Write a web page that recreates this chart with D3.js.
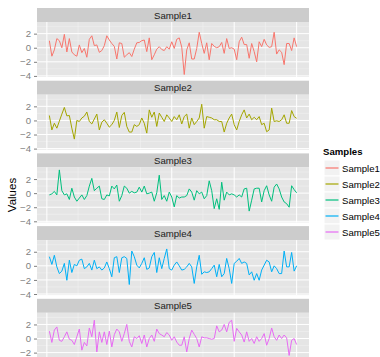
<!DOCTYPE html>
<html>
<head>
<meta charset="utf-8">
<script src="https://cdnjs.cloudflare.com/ajax/libs/d3/7.8.5/d3.min.js"></script>
<style>
body { margin: 0; background: #fff; }
svg { display: block; font-family: "Liberation Sans", Arial, sans-serif; }
</style>
</head>
<body>
<svg id="chart" width="380" height="357"></svg>
<script>
/*global d3 */

var samples = ['Sample1', 'Sample2', 'Sample3', 'Sample4', 'Sample5'];
var colors = ['#F8766D', '#A3A500', '#00BF7D', '#00B0F6', '#E76BF3'];

var sample1 = [1.0, -1.2, -0.3, 1.3, 1.0, 0.0, 1.9, -0.6, 1.3, -0.6,
    -1.0, -1.2, 0.4, -0.7, -0.1, -1.35, 1.2, 1.7, 0.3, 0.4,
    -0.65, -0.4, 0.3, 1.7, 1.1, 0.6, 0.2, -1.6, 0.7, 0.6,
    -1.35, -1.0, -0.7, -1.25, -0.2, 0.7, 0.75, 1.0, 1.1, -0.55,
    1.4, -1.7, -1.0, -0.2, 0.15, -0.25, -0.4, 0.15, -0.2, 0.85,
    -0.1, 1.2, 1.4, 0.1, -3.8, -0.3, 0.7, -1.6, -1.6, -0.1,
    2.2, 0.6, -0.8, 0.7, -1.7, 0.6, 0.2, 0.0, 0.15, 0.75,
    -0.8, 1.3, -0.1, 0.0, -0.2, -1.7, 0.85, 1.5, 0.45, 0.45,
    -1.5, 0.6, -0.55, -2.0, 0.85, 0.15, 1.2, 0.4, 0.05, 0.15,
    2.2, -0.9, -0.3, -0.65, -2.4, 0.6, 0.6, -0.4, 1.4, 0.15];

var sample2 = [0.7, -1.35, -0.4, -1.1, -0.1, 0.9, 1.85, 0.65, 0.7, -1.1,
    -2.65, 0.0, -0.15, 0.35, 0.6, 1.2, -0.15, -0.5, 0.2, 0.9,
    -1.35, -0.25, 0.1, -0.4, -0.95, -0.6, 0.0, 1.2, -1.0, 0.7,
    1.15, -0.85, -1.65, -1.65, -0.6, -0.85, -0.6, 0.35, -0.4, -1.8,
    1.5, 0.45, 1.2, -0.85, 1.05, 0.45, -0.15, 0.8, 0.35, -0.15,
    0.55, 0.1, 0.8, -0.5, 0.55, 0.9, -1.1, 0.35, -0.6, -0.15,
    0.35, 2.3, -1.1, 0.55, 0.45, 0.35, 0.1, 0.1, -0.15, -0.15,
    -1.65, -0.4, 0.35, 0.9, -0.6, -1.35, -0.15, 0.8, 1.5, 0.35,
    0.9, 0.1, 0.45, 0.1, 0.55, -0.6, -0.4, -1.6, -1.35, 1.75,
    -0.15, -0.05, -0.15, 0.1, 0.8, -0.4, -0.4, 1.4, 0.55, 0.3];

var sample3 = [-0.25, -0.1, 0.25, -0.25, 3.3, 0.35, -0.25, -0.1, -0.9, 0.7,
    -0.55, -1.15, -0.7, -0.25, -0.9, -0.35, 1.0, 2.1, 0.35, 0.7,
    1.0, -0.8, -0.9, -0.25, -0.4, 1.0, 0.6, 1.15, -1.15, -0.35,
    1.0, 0.7, 0.0, 0.25, 0.05, 0.15, 0.85, 0.15, 1.0, -0.1,
    0.0, 0.15, -1.15, 0.05, 2.55, -0.9, -0.35, -1.15, 0.15, -0.55,
    -1.95, -0.35, -0.7, -0.55, -0.55, -0.35, 0.6, 0.15, -1.0, 0.35,
    -0.1, 0.15, -0.8, -0.35, 1.75, 0.35, -2.2, -0.8, -2.3, 1.55,
    -1.0, 0.15, -0.25, -0.1, -0.25, -0.55, -0.25, -0.55, 0.6, 0.7,
    -2.55, -1.0, 0.6, 0.7, 0.7, -1.25, 0.35, 1.05, -0.25, -1.15,
    0.85, 1.3, 0.6, -0.55, -1.25, -1.5, -2.0, 1.05, 0.5, 0.05];

var sample4 = [1.3, 0.2, 1.5, -0.15, -1.1, -0.75, 0.35, -2.05, 0.8, -0.95,
    0.2, 0.0, 0.8, 0.95, -0.4, -0.15, 0.35, -0.6, 0.8, -0.4,
    -0.15, -0.6, -0.3, 0.55, -0.4, -1.55, 1.15, 1.3, -0.95, 1.15,
    1.3, 1.05, -2.65, 2.1, 1.3, 0.1, -0.3, 0.35, 1.15, -0.5,
    -0.3, 1.3, 1.9, -0.95, 1.15, -0.4, 1.05, 2.4, -0.4, -0.6,
    0.1, 0.55, 0.0, -0.6, -0.5, -0.15, 0.35, -0.15, -2.5, -0.15,
    1.5, -1.2, -0.85, -0.95, -0.85, -0.4, 0.1, -1.55, 0.2, -1.55,
    -1.1, 1.05, -0.4, -2.5, 0.35, 0.65, 1.05, 0.35, 0.55, 0.35,
    -1.3, -0.85, -2.05, -1.1, -2.05, -0.6, 0.1, 0.8, 0.55, -0.85,
    0.0, -0.4, -1.1, -1.1, 2.1, -0.15, -0.15, 1.9, -0.75, 0.0];

var sample5 = [1.05, -0.55, 1.2, 1.65, -0.25, -0.4, 0.25, 0.95, -0.1, -0.25,
    -0.85, 0.25, 1.35, -1.65, -0.55, -1.05, 1.5, 0.25, 2.6, -1.9,
    0.95, -0.55, 0.95, -0.85, 1.05, -1.2, 0.55, 1.35, 0.95, -0.4,
    0.7, 2.0, -0.4, -1.2, 0.25, 0.0, 0.4, -0.7, 0.5, -1.2,
    0.0, 0.5, -0.4, 1.35, 0.7, 0.5, 0.25, 0.85, 0.5, -0.25,
    0.25, -0.5, -0.95, -0.95, 0.25, -1.9, 0.0, 1.2, 0.6, 0.0,
    -1.2, 0.25, 0.1, 0.1, 0.0, -0.1, 0.0, 1.8, 0.95, 1.2,
    2.0, 0.95, 2.3, 2.6, -0.4, 1.45, 0.95, 0.5, -0.5, 0.95,
    -0.4, 0.0, -0.7, 0.25, -0.4, 0.0, 0.7, -0.95, 0.0, 1.5,
    0.25, -0.25, 0.5, 0.0, 0.5, 0.1, -2.4, -0.25, 0.0, -0.85];

var yTicks = [-4, -2, 0, 2];
var yMinor = [-3, -1, 1, 3];
var xTicks = [0, 25, 50, 75, 100];
var xMinor = [12.5, 37.5, 62.5, 87.5];

var series = [sample1, sample2, sample3, sample4, sample5];

var panelLeft = 37;
var panelRight = 309;
var firstTop = 8;
var period = 72.7;
var stripH = 14;
var plotH = 55;

var n = sample1.length;
var all = d3.merge(series);
var yMin = d3.min(all);
var yMax = d3.max(all);
var yPad = (yMax - yMin) * 0.05;
var xPad = (n - 1) * 0.05;

var x = d3.scaleLinear()
    .domain([1 - xPad, n + xPad])
    .range([panelLeft, panelRight]);

var y = d3.scaleLinear()
    .domain([yMin - yPad, yMax + yPad])
    .range([plotH, 0]);

var line = d3.line()
    .x(function (d, i) { return x(i + 1); })
    .y(function (d) { return y(d); });

var $svg = d3.select('#chart');

var $panels = $svg.selectAll('g.panel')
    .data(series)
    .enter()
    .append('g')
    .classed('panel', true)
    .attr('transform', function (d, i) {
        return 'translate(0,' + (firstTop + i * period) + ')';
    });

// strip
$panels.append('rect')
    .attr('x', panelLeft)
    .attr('y', 0)
    .attr('width', panelRight - panelLeft)
    .attr('height', stripH)
    .attr('fill', '#CCCCCC');

$panels.append('text')
    .attr('x', (panelLeft + panelRight) / 2)
    .attr('y', stripH / 2 + 3.5)
    .attr('text-anchor', 'middle')
    .style('font-size', '9.6px')
    .attr('fill', '#1A1A1A')
    .text(function (d, i) { return samples[i]; });

var $plots = $panels.append('g')
    .attr('transform', 'translate(0,' + stripH + ')');

$plots.append('rect')
    .attr('x', panelLeft)
    .attr('y', 0)
    .attr('width', panelRight - panelLeft)
    .attr('height', plotH)
    .attr('fill', '#E5E5E5');

// minor grid
$plots.selectAll('line.hminor')
    .data(yMinor)
    .enter()
    .append('line')
    .attr('x1', panelLeft).attr('x2', panelRight)
    .attr('y1', function (d) { return y(d); })
    .attr('y2', function (d) { return y(d); })
    .attr('stroke', '#F2F2F2')
    .attr('stroke-width', 0.5);

$plots.selectAll('line.vminor')
    .data(xMinor)
    .enter()
    .append('line')
    .attr('y1', 0).attr('y2', plotH)
    .attr('x1', function (d) { return x(d); })
    .attr('x2', function (d) { return x(d); })
    .attr('stroke', '#F2F2F2')
    .attr('stroke-width', 0.5);

// major grid
$plots.selectAll('line.hmajor')
    .data(yTicks)
    .enter()
    .append('line')
    .attr('x1', panelLeft).attr('x2', panelRight)
    .attr('y1', function (d) { return y(d); })
    .attr('y2', function (d) { return y(d); })
    .attr('stroke', '#FFFFFF')
    .attr('stroke-width', 1);

$plots.selectAll('line.vmajor')
    .data(xTicks)
    .enter()
    .append('line')
    .attr('y1', 0).attr('y2', plotH)
    .attr('x1', function (d) { return x(d); })
    .attr('x2', function (d) { return x(d); })
    .attr('stroke', '#FFFFFF')
    .attr('stroke-width', 1);

$plots.append('path')
    .attr('d', function (d) { return line(d); })
    .attr('fill', 'none')
    .attr('stroke', function (d, i) { return colors[i]; })
    .attr('stroke-width', 1);

var yAxis = d3.axisLeft(y)
    .tickValues(yTicks)
    .tickSize(3)
    .tickPadding(3);

$plots.append('g')
    .attr('transform', 'translate(' + panelLeft + ',0)')
    .call(yAxis)
    .call(function (g) {
        g.select('.domain').remove();
        g.selectAll('.tick line').attr('stroke', '#7F7F7F');
        g.selectAll('.tick text')
            .attr('fill', '#7F7F7F')
            .style('font-size', '9.6px')
            .style('font-family', '"Liberation Sans", Arial, sans-serif');
    });

// y title
$svg.append('text')
    .attr('transform', 'translate(16,195) rotate(-90)')
    .attr('text-anchor', 'middle')
    .style('font-size', '11.5px')
    .attr('fill', '#000')
    .text('Values');

// legend
var $legend = $svg.append('g')
    .attr('transform', 'translate(324,0)');

$legend.append('text')
    .attr('x', -1)
    .attr('y', 155)
    .style('font-size', '9.6px')
    .style('font-weight', 'bold')
    .text('Samples');

var $keys = $legend.selectAll('g.key')
    .data(samples)
    .enter()
    .append('g')
    .classed('key', true)
    .attr('transform', function (d, i) {
        return 'translate(0,' + (160 + i * 16) + ')';
    });

$keys.append('rect')
    .attr('width', 16)
    .attr('height', 16)
    .attr('fill', '#F2F2F2')
    .attr('stroke', '#FFFFFF')
    .attr('stroke-width', 1);

$keys.append('line')
    .attr('x1', 1.5).attr('x2', 14.5)
    .attr('y1', 8).attr('y2', 8)
    .attr('stroke', function (d, i) { return colors[i]; })
    .attr('stroke-width', 1.2);

$keys.append('text')
    .attr('x', 18)
    .attr('y', 11.5)
    .style('font-size', '9.6px')
    .attr('fill', '#000')
    .text(function (d) { return d; });
</script>
</body>
</html>
